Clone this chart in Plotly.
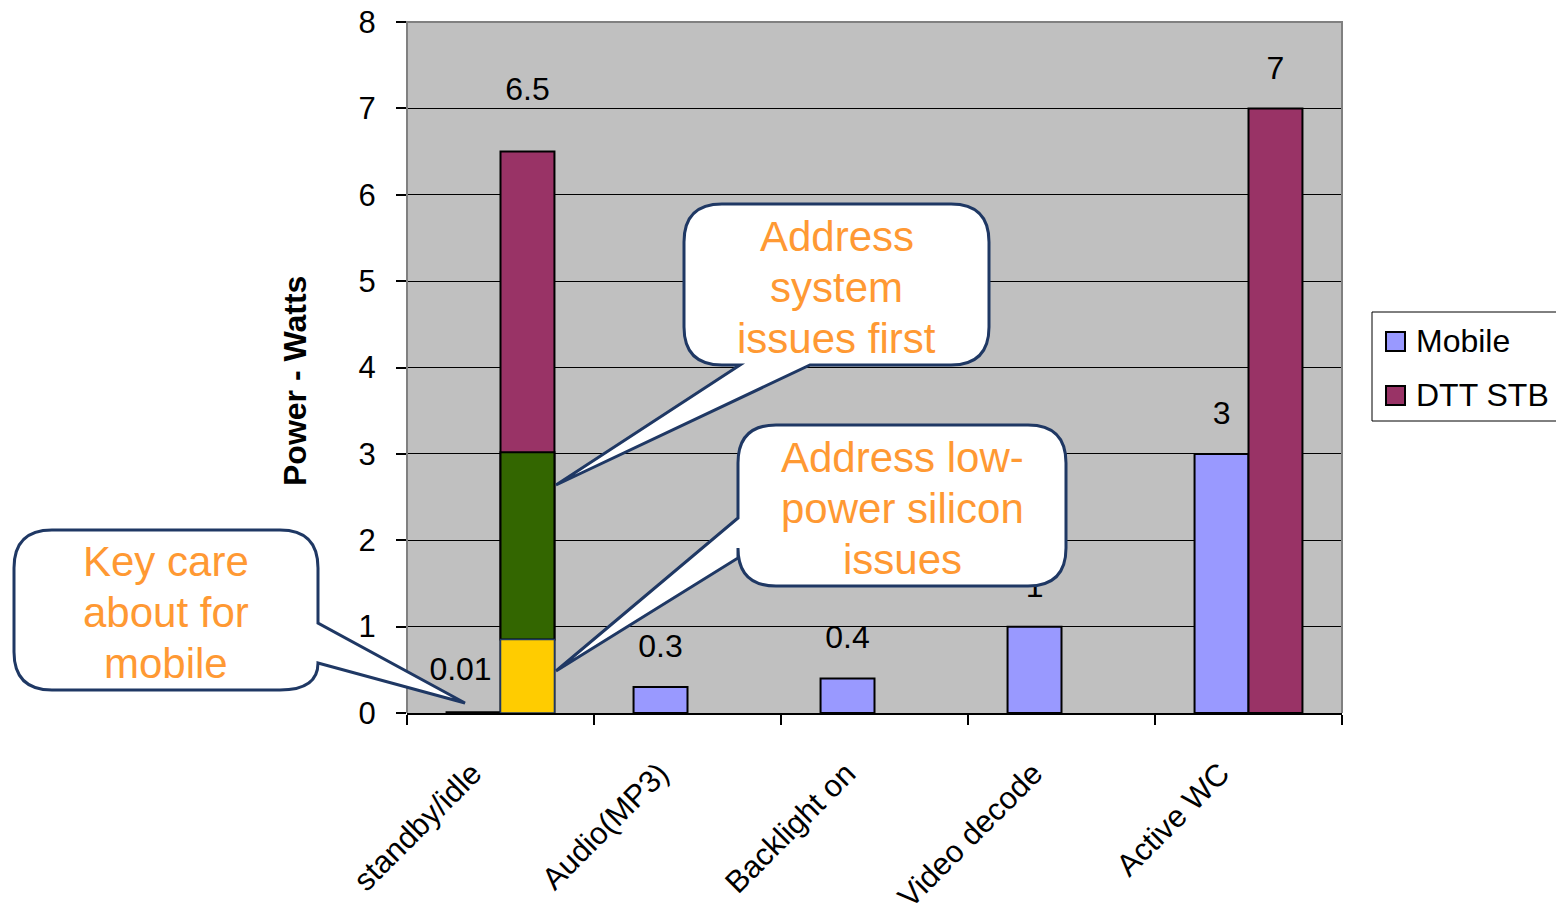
import plotly.graph_objects as go

# ---------------- data ----------------
categories = ["standby/idle", "Audio(MP3)", "Backlight on", "Video decode", "Active WC"]
series_names = ["Mobile", "DTT STB"]
mobile = [0.01, 0.3, 0.4, 1, 3]
dtt_stb = [6.5, None, None, None, 7]
# highlighted bands drawn over the standby/idle DTT STB bar (top of each band)
band_yellow_top = [0.85, None, None, None, None]
band_green_top = [3.02, None, None, None, None]
y_ticks = [0, 1, 2, 3, 4, 5, 6, 7, 8]

callout_lines = [
    ["Key care", "about for", "mobile"],
    ["Address", "system", "issues first"],
    ["Address low-", "power silicon", "issues"],
]

# ---------------- geometry / style ----------------
W, H = 1556, 918
L, R, T, B = 407, 1342, 22, 713
PW, PH = R - L, B - T
YMAX = 8
px_per_unit = PH / YMAX
px_per_cat = PW / len(categories)
FONT = "Liberation Sans, Arial, sans-serif"
BARGAP = 0.423
half_w = (1 - BARGAP) / 2 / 2  # offset of each bar centre from category centre

C_MOBILE = "#9999FF"
C_DTT = "#993366"
C_YELLOW = "#FFCC00"
C_GREEN = "#336600"
C_CALLOUT_LINE = "#1F3864"
C_CALLOUT_TEXT = "#FF9933"


def fx(x):
    return (x - L) / PW


def fy(y):
    return (B - y) / PH


def build_path(cmds):
    out = []
    for c in cmds:
        if c[0] in ("M", "L"):
            out.append(f"{c[0]} {fx(c[1]):.5f},{fy(c[2]):.5f}")
        elif c[0] == "Q":
            out.append(f"Q {fx(c[1]):.5f},{fy(c[2]):.5f} {fx(c[3]):.5f},{fy(c[4]):.5f}")
        elif c[0] == "Z":
            out.append("Z")
    return " ".join(out)


fig = go.Figure()

# bars
fig.add_trace(go.Bar(x=categories, y=mobile, name=series_names[0], offsetgroup="m",
                     marker=dict(color=C_MOBILE, line=dict(color="black", width=2)),
                     showlegend=False, hoverinfo="skip"))
fig.add_trace(go.Bar(x=categories, y=dtt_stb, name=series_names[1], offsetgroup="d",
                     marker=dict(color=C_DTT, line=dict(color="black", width=2)),
                     showlegend=False, hoverinfo="skip"))
green_h = [(g - y) if g is not None else None for g, y in zip(band_green_top, band_yellow_top)]
fig.add_trace(go.Bar(x=categories, y=green_h, base=band_yellow_top, offsetgroup="d",
                     marker=dict(color=C_GREEN, line=dict(color="black", width=2)),
                     showlegend=False, hoverinfo="skip"))
fig.add_trace(go.Bar(x=categories, y=band_yellow_top, base=0, offsetgroup="d",
                     marker=dict(color=C_YELLOW, line=dict(color=C_CALLOUT_LINE, width=1.5)),
                     showlegend=False, hoverinfo="skip"))


# data labels (text traces on an overlaid numeric x axis so callouts can cover them)
def label_trace(values, offset, lift_default, lift_special=None, shift_special=None):
    xs, ys, ts = [], [], []
    for i, v in enumerate(values):
        if v is None:
            continue
        lift = lift_default
        if lift_special and i in lift_special:
            lift = lift_special[i]
        sx = 0
        if shift_special and i in shift_special:
            sx = shift_special[i]
        xs.append(i + offset + sx / px_per_cat)
        ys.append(v + lift / px_per_unit)
        ts.append(f"{v:g}")
    return go.Scatter(x=xs, y=ys, text=ts, mode="text", xaxis="x2", yaxis="y",
                      textposition="middle center",
                      textfont=dict(family=FONT, size=32, color="black"),
                      showlegend=False, hoverinfo="skip")


fig.add_trace(label_trace(mobile, -half_w, 38, {0: 40}, {0: -13}))
fig.add_trace(label_trace(dtt_stb, half_w, 37, {0: 60}))

shapes = []
# plot frame (top, left, right) in gray
shapes.append(dict(type="path", xref="paper", yref="paper",
                   path="M 0,0 L 0,1 L 1,1 L 1,0",
                   line=dict(color="#808080", width=2), layer="above"))

# callouts
r = 38
x0, y0, x1, y1 = 14, 530, 318, 690
c1 = [("M", x0 + r, y0), ("L", x1 - r, y0), ("Q", x1, y0, x1, y0 + r),
      ("L", x1, 623), ("L", 465, 703), ("L", x1, 663), ("Q", x1, y1, x1 - r, y1),
      ("L", x0 + r, y1), ("Q", x0, y1, x0, y1 - r), ("L", x0, y0 + r),
      ("Q", x0, y0, x0 + r, y0), ("Z",)]
box1 = (x0, y0, x1, y1)
x0, y0, x1, y1 = 684, 204, 989, 365
c2 = [("M", x0 + r, y0), ("L", x1 - r, y0), ("Q", x1, y0, x1, y0 + r),
      ("L", x1, y1 - r), ("Q", x1, y1, x1 - r, y1), ("L", 810, y1), ("L", 556, 485),
      ("L", 740, y1), ("L", x0 + r, y1), ("Q", x0, y1, x0, y1 - r), ("L", x0, y0 + r),
      ("Q", x0, y0, x0 + r, y0), ("Z",)]
box2 = (x0, y0, x1, y1)
x0, y0, x1, y1 = 738, 425, 1066, 586
c3 = [("M", x0 + r, y0), ("L", x1 - r, y0), ("Q", x1, y0, x1, y0 + r),
      ("L", x1, y1 - r), ("Q", x1, y1, x1 - r, y1), ("L", x0 + r, y1),
      ("Q", x0, y1, x0, y1 - r), ("L", x0, 558), ("L", 556, 671), ("L", x0, 518),
      ("L", x0, y0 + r), ("Q", x0, y0, x0 + r, y0), ("Z",)]
box3 = (x0, y0, x1, y1)
for c in (c1, c2, c3):
    shapes.append(dict(type="path", xref="paper", yref="paper", path=build_path(c),
                       fillcolor="white", line=dict(color=C_CALLOUT_LINE, width=3),
                       layer="above"))

# manual legend
shapes.append(dict(type="rect", xref="paper", yref="paper",
                   x0=fx(1372), x1=fx(1562), y0=fy(312), y1=fy(421),
                   fillcolor="white", line=dict(color="black", width=1), layer="above"))
legend_rows = [(series_names[0], C_MOBILE, 341), (series_names[1], C_DTT, 395)]
annotations = []
for name, col, cy in legend_rows:
    shapes.append(dict(type="rect", xref="paper", yref="paper",
                       x0=fx(1386), x1=fx(1405), y0=fy(cy - 9), y1=fy(cy + 10),
                       fillcolor=col, line=dict(color="black", width=2), layer="above"))
    annotations.append(dict(text=name, xref="paper", yref="paper", x=fx(1414), y=fy(cy),
                            xanchor="left", yanchor="middle", showarrow=False,
                            font=dict(family=FONT, size=32, color="black")))

LINE_STEP = 51
for lines, (bx0, by0, bx1, by1) in zip(callout_lines, (box1, box2, box3)):
    cx = (bx0 + bx1) / 2
    cy = (by0 + by1) / 2 + 2.5
    n = len(lines)
    for k, txt in enumerate(lines):
        ly = cy + (k - (n - 1) / 2) * LINE_STEP
        annotations.append(dict(text=txt, xref="paper", yref="paper",
                                x=fx(cx), y=fy(ly),
                                xanchor="center", yanchor="middle", showarrow=False,
                                font=dict(family=FONT, size=42, color=C_CALLOUT_TEXT)))

# y axis title
annotations.append(dict(text="<b>Power - Watts</b>", xref="paper", yref="paper",
                        x=fx(295), y=fy(381), textangle=-90, showarrow=False,
                        xanchor="center", yanchor="middle",
                        font=dict(family=FONT, size=32, color="black")))

fig.update_layout(
    width=W, height=H,
    margin=dict(l=L, r=W - R, t=T, b=H - B, pad=0, autoexpand=False),
    paper_bgcolor="white", plot_bgcolor="#C0C0C0",
    barmode="group", bargap=BARGAP, bargroupgap=0,
    showlegend=False,
    font=dict(family=FONT, color="black"),
    xaxis=dict(type="category", categoryorder="array", categoryarray=categories,
               range=[-0.5, len(categories) - 0.5], automargin=False,
               tickson="boundaries", ticks="outside", ticklen=10, tickwidth=1.5,
               tickcolor="black", showline=True, linecolor="black", linewidth=2,
               tickangle=-45, tickfont=dict(family=FONT, size=31, color="black"),
               ticklabelstandoff=28, ticklabelshift=-28,
               showgrid=False, zeroline=False, fixedrange=True),
    xaxis2=dict(overlaying="x", range=[-0.5, len(categories) - 0.5], visible=False,
                fixedrange=True),
    yaxis=dict(range=[0, YMAX], tickvals=y_ticks, ticks="outside", ticklen=10,
               tickwidth=1.5, tickcolor="black", showgrid=True, gridcolor="black",
               gridwidth=1, showline=False, zeroline=False, automargin=False,
               tickfont=dict(family=FONT, size=31, color="black"),
               ticklabelstandoff=14, fixedrange=True),
    shapes=shapes,
    annotations=annotations,
)

fig.write_html("out.html")
